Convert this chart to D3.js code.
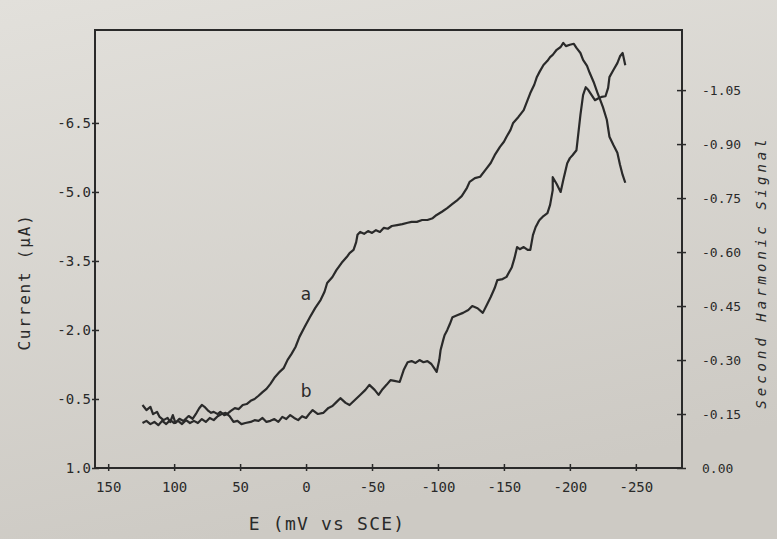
<!doctype html>
<html lang="en">
<head>
  <meta charset="utf-8">
  <title>Current and second harmonic signal vs E</title>
  <script src="https://d3js.org/d3.v7.min.js"></script>
  <style>
    body { margin: 0; background: #d8d6d1; }
    text { font-family: 'DejaVu Sans Mono', monospace; fill: #2a2a2a; }
  </style>
</head>
<body>
  <div id="chart"></div>
  <script>
    // potential axis, mV vs SCE
    var eTicks = [150, 100, 50, 0, -50, -100, -150, -200, -250];
    // current axis (uA), drawn negative-up
    var currentTicks = [1.0, -0.5, -2.0, -3.5, -5.0, -6.5];
    // second harmonic axis
    var harmonicTicks = [0.00, -0.15, -0.30, -0.45, -0.60, -0.75, -0.90, -1.05];

    // curve a : current vs E
    var aE = [124, 121, 118, 116, 113, 111, 108, 105, 103, 101, 99, 96, 93, 89, 86, 83, 81, 79, 77, 74,
      72, 70, 67, 65, 62, 60, 57, 54, 51, 48, 45, 42, 39, 36, 33, 30, 27, 24, 20, 17,
      14, 11, 8, 5, 1, -3, -7, -11, -14, -16, -20, -23, -27, -31, -33, -36, -38, -39, -41, -44,
      -47, -50, -53, -56, -59, -62, -65, -69, -73, -77, -80, -84, -88, -92, -96, -99, -103, -107, -111, -115,
      -118, -122, -124, -128, -132, -136, -140, -143, -147, -150, -152, -155, -157, -161, -165, -168, -170, -173, -175, -177,
      -180, -183, -185, -187, -190, -193, -195, -197, -200, -203, -205, -208, -210, -213, -215, -218, -221, -223, -225, -228,
      -230, -233, -236, -238, -240, -242];
    var aI = [-0.37, -0.26, -0.33, -0.17, -0.22, -0.11, -0.04, -0.09, 0.00, -0.15, 0.02, -0.07, -0.02, -0.13, -0.07, -0.20, -0.30, -0.37, -0.33, -0.24,
      -0.20, -0.22, -0.17, -0.22, -0.15, -0.17, -0.24, -0.30, -0.28, -0.37, -0.39, -0.46, -0.50, -0.57, -0.65, -0.72, -0.83, -0.96, -1.09, -1.17,
      -1.35, -1.48, -1.63, -1.85, -2.07, -2.28, -2.48, -2.65, -2.83, -3.02, -3.15, -3.30, -3.46, -3.59, -3.67, -3.74, -3.91, -4.07, -4.13, -4.09,
      -4.15, -4.11, -4.17, -4.13, -4.22, -4.20, -4.26, -4.28, -4.30, -4.33, -4.35, -4.35, -4.39, -4.39, -4.43, -4.50, -4.57, -4.65, -4.74, -4.83,
      -4.91, -5.09, -5.22, -5.30, -5.33, -5.48, -5.63, -5.80, -5.98, -6.09, -6.20, -6.35, -6.50, -6.63, -6.78, -7.00, -7.15, -7.33, -7.50, -7.61,
      -7.76, -7.85, -7.93, -7.98, -8.09, -8.15, -8.24, -8.17, -8.20, -8.22, -8.13, -8.02, -7.87, -7.74, -7.59, -7.39, -7.15, -7.00, -6.85, -6.57,
      -6.20, -6.02, -5.85, -5.59, -5.37, -5.20];

    // curve b : second harmonic signal vs E
    var bE = [124, 121, 118, 115, 112, 109, 106, 103, 100, 97, 94, 91, 88, 85, 82, 79, 76, 73, 70, 67,
      64, 61, 58, 55, 52, 49, 46, 42, 39, 36, 33, 30, 27, 24, 21, 18, 15, 12, 9, 6,
      3, 0, -3, -5, -9, -13, -17, -20, -23, -26, -30, -33, -37, -41, -45, -48, -52, -55, -58, -61,
      -64, -67, -71, -74, -77, -80, -83, -86, -89, -92, -95, -97, -99, -101, -102, -104, -105, -107, -109, -111,
      -115, -119, -123, -126, -130, -134, -137, -140, -143, -145, -149, -152, -156, -158, -160, -162, -165, -168, -170, -172,
      -174, -176, -177, -180, -183, -185, -187, -187, -190, -193, -195, -198, -200, -202, -205, -208, -210, -212, -214, -217,
      -219, -222, -224, -227, -229, -230, -233, -236, -238, -240, -242];
    var bS = [-0.125, -0.131, -0.122, -0.128, -0.119, -0.131, -0.122, -0.133, -0.125, -0.131, -0.122, -0.133, -0.125, -0.131, -0.125, -0.136, -0.128, -0.139, -0.133, -0.144,
      -0.150, -0.153, -0.144, -0.128, -0.131, -0.122, -0.125, -0.128, -0.133, -0.131, -0.139, -0.128, -0.131, -0.136, -0.128, -0.142, -0.136, -0.147, -0.139, -0.133,
      -0.144, -0.139, -0.153, -0.161, -0.150, -0.153, -0.167, -0.172, -0.183, -0.194, -0.181, -0.175, -0.189, -0.203, -0.217, -0.231, -0.217, -0.203, -0.219, -0.231,
      -0.244, -0.242, -0.239, -0.272, -0.294, -0.297, -0.292, -0.300, -0.294, -0.297, -0.289, -0.278, -0.267, -0.300, -0.328, -0.356, -0.369, -0.383, -0.400, -0.419,
      -0.425, -0.431, -0.439, -0.450, -0.444, -0.431, -0.453, -0.475, -0.500, -0.522, -0.525, -0.531, -0.558, -0.583, -0.614, -0.608, -0.614, -0.606, -0.606, -0.647,
      -0.669, -0.683, -0.689, -0.700, -0.708, -0.731, -0.772, -0.808, -0.789, -0.767, -0.800, -0.847, -0.861, -0.869, -0.883, -0.981, -1.036, -1.058, -1.050, -1.033,
      -1.022, -1.028, -1.031, -1.033, -1.056, -1.086, -1.106, -1.125, -1.144, -1.153, -1.119];

    var width = 777, height = 539;
    var plotL = 95, plotR = 682, plotT = 30, plotB = 468;
    var ink = '#2a2a2a';

    var svg = d3.select('#chart')
      .append('svg')
      .attr('width', width)
      .attr('height', height);

    // paper background
    var grad = svg.append('defs').append('linearGradient')
      .attr('id', 'paper').attr('x1', 0).attr('y1', 0).attr('x2', 0.3).attr('y2', 1);
    grad.append('stop').attr('offset', '0%').attr('stop-color', '#e2e0db');
    grad.append('stop').attr('offset', '100%').attr('stop-color', '#cdcac4');
    svg.append('rect').attr('width', width).attr('height', height).attr('fill', 'url(#paper)');

    var x = d3.scaleLinear().domain([160, -285]).range([plotL, plotR]);
    var yL = d3.scaleLinear().domain([1.0, -8.52]).range([plotB, plotT]);
    var yR = d3.scaleLinear().domain([0, -1.217]).range([plotB, plotT]);

    // frame
    svg.append('rect')
      .attr('x', plotL).attr('y', plotT)
      .attr('width', plotR - plotL).attr('height', plotB - plotT)
      .attr('fill', 'none').attr('stroke', ink).attr('stroke-width', 2);

    var xAxis = svg.append('g')
      .attr('transform', 'translate(0,' + plotB + ')')
      .call(d3.axisBottom(x).tickValues(eTicks).tickSize(0).tickPadding(14)
        .tickFormat(function(d) { return String(d); }));
    xAxis.select('.domain').remove();
    xAxis.selectAll('.tick line').attr('y1', -4).attr('y2', 3).attr('stroke', ink).attr('stroke-width', 1.5);
    xAxis.selectAll('.tick text').style('font-size', '14px').attr('fill', ink);

    var yAxisL = svg.append('g')
      .attr('transform', 'translate(' + plotL + ',0)')
      .call(d3.axisLeft(yL).tickValues(currentTicks).tickSize(0).tickPadding(4)
        .tickFormat(function(d) { return d.toFixed(1); }));
    yAxisL.select('.domain').remove();
    yAxisL.selectAll('.tick line').attr('x1', -3).attr('x2', 4).attr('stroke', ink).attr('stroke-width', 1.5);
    yAxisL.selectAll('.tick text').style('font-size', '14px').attr('fill', ink);

    var yAxisR = svg.append('g')
      .attr('transform', 'translate(' + plotR + ',0)')
      .call(d3.axisRight(yR).tickValues(harmonicTicks).tickSize(0).tickPadding(20)
        .tickFormat(function(d) { return d.toFixed(2); }));
    yAxisR.select('.domain').remove();
    yAxisR.selectAll('.tick line').attr('x1', -5).attr('x2', 4).attr('stroke', ink).attr('stroke-width', 1.5);
    yAxisR.selectAll('.tick text').style('font-size', '13px').attr('fill', ink);

    var lineA = d3.line()
      .x(function(d, i) { return x(aE[i]); })
      .y(function(d, i) { return yL(aI[i]); });
    var lineB = d3.line()
      .x(function(d, i) { return x(bE[i]); })
      .y(function(d, i) { return yR(bS[i]); });

    svg.append('path').datum(aE)
      .attr('d', lineA)
      .attr('fill', 'none').attr('stroke', ink).attr('stroke-width', 2.2)
      .attr('stroke-linejoin', 'round');
    svg.append('path').datum(bE)
      .attr('d', lineB)
      .attr('fill', 'none').attr('stroke', ink).attr('stroke-width', 2.2)
      .attr('stroke-linejoin', 'round');

    // curve labels
    svg.append('text')
      .attr('x', x(0)).attr('y', yL(-2.75))
      .attr('text-anchor', 'middle').attr('dominant-baseline', 'middle')
      .style('font-family', 'DejaVu Sans, sans-serif').style('font-size', '17px')
      .text('a');
    svg.append('text')
      .attr('x', x(0)).attr('y', yR(-0.21))
      .attr('text-anchor', 'middle').attr('dominant-baseline', 'middle')
      .style('font-family', 'DejaVu Sans, sans-serif').style('font-size', '17px')
      .text('b');

    // axis titles
    svg.append('text')
      .attr('transform', 'translate(' + 327 + ',' + 530 + ')')
      .attr('text-anchor', 'middle')
      .style('font-size', '18px').style('letter-spacing', '1.2px')
      .text('E (mV vs SCE)');

    svg.append('text')
      .attr('transform', 'translate(' + 30 + ',' + 282 + ') rotate(-90)')
      .attr('text-anchor', 'middle')
      .style('font-size', '16px').style('letter-spacing', '1.8px')
      .text('Current (\u03bcA)');

    svg.append('text')
      .attr('transform', 'translate(' + 766 + ',' + 272 + ') rotate(-90)')
      .attr('text-anchor', 'middle')
      .style('font-size', '14px').style('font-style', 'italic').style('letter-spacing', '4px')
      .text('Second Harmonic Signal');
  </script>
</body>
</html>
